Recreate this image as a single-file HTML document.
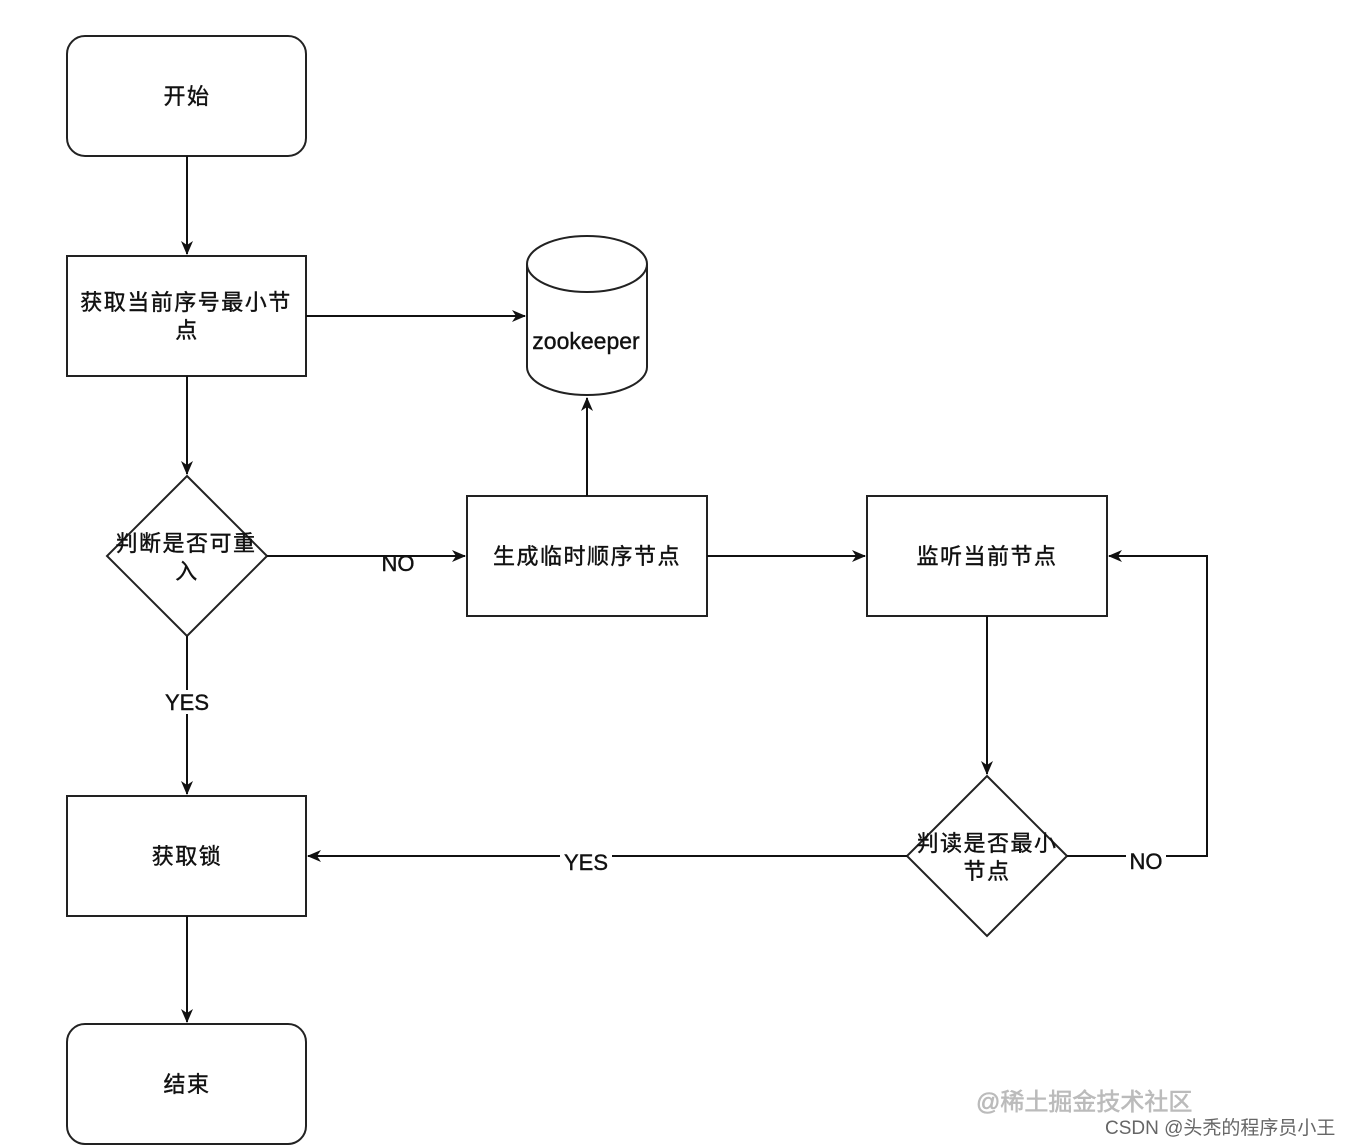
<!DOCTYPE html>
<html><head><meta charset="utf-8"><style>
html,body{margin:0;padding:0;background:#fff;}
svg{display:block;}
text{font-family:"Liberation Sans","Noto Sans CJK SC",sans-serif;fill:#111;}
.t{stroke:#111;stroke-width:0.4;}
</style></head><body>
<svg width="1352" height="1146" viewBox="0 0 1352 1146" xmlns="http://www.w3.org/2000/svg">
<defs><marker id="a" markerWidth="14" markerHeight="14" refX="13" refY="7" orient="auto" markerUnits="userSpaceOnUse"><path d="M0,1 L14,7 L0,13 L4,7 z" fill="#111"/></marker></defs>
<g stroke="#222" stroke-width="2" fill="none">
<rect x="67" y="36" width="239" height="120" rx="18"/>
<rect x="67" y="256" width="239" height="120"/>
<polygon points="187,476 267,556 187,636 107,556"/>
<rect x="467" y="496" width="240" height="120"/>
<rect x="867" y="496" width="240" height="120"/>
<rect x="67" y="796" width="239" height="120"/>
<rect x="67" y="1024" width="239" height="120" rx="18"/>
<polygon points="987,776 1067,856 987,936 907,856"/>
<path d="M527,264 L527,367 A60,28 0 0 0 647,367 L647,264"/>
<ellipse cx="587" cy="264" rx="60" ry="28"/>
</g>
<g stroke="#111" stroke-width="2" fill="none" marker-end="url(#a)">
<path d="M187,156 L187,254"/>
<path d="M306,316 L525,316"/>
<path d="M187,376 L187,474"/>
<path d="M267,556 L465,556"/>
<path d="M707,556 L865,556"/>
<path d="M587,496 L587,398"/>
<path d="M987,616 L987,774"/>
<path d="M907,856 L308,856"/>
<path d="M1067,856 L1207,856 L1207,556 L1109,556"/>
<path d="M187,636 L187,794"/>
<path d="M187,916 L187,1022"/>
</g>
<g font-size="22" text-anchor="middle" class="t" letter-spacing="1.5">
<text x="187" y="104">开始</text>
<text x="186" y="310">获取当前序号最小节</text>
<text x="187" y="338">点</text>
<text x="586" y="349" font-size="23" letter-spacing="0">zookeeper</text>
<text x="186" y="551">判断是否可重</text>
<text x="187" y="579">入</text>
<text x="587" y="564">生成临时顺序节点</text>
<text x="987" y="564">监听当前节点</text>
<text x="187" y="864">获取锁</text>
<text x="987" y="851">判读是否最小</text>
<text x="987" y="879">节点</text>
<text x="187" y="1092">结束</text>
</g>
<g font-size="22" text-anchor="middle" class="t">
<text x="398" y="571">NO</text>
<rect x="162" y="690" width="50" height="24" fill="#fff" stroke="none"/>
<text x="187" y="710">YES</text>
<rect x="560" y="850" width="52" height="22" fill="#fff" stroke="none"/>
<text x="586" y="870">YES</text>
<rect x="1126" y="850" width="40" height="22" fill="#fff" stroke="none"/>
<text x="1146" y="869">NO</text>
</g>
<text x="976" y="1110" font-size="24" style="fill:#bbb;stroke:#bbb;stroke-width:0.6">@稀土掘金技术社区</text>
<text x="1105" y="1134" font-size="19" style="fill:#666">CSDN @头秃的程序员小王</text>
</svg>
</body></html>
